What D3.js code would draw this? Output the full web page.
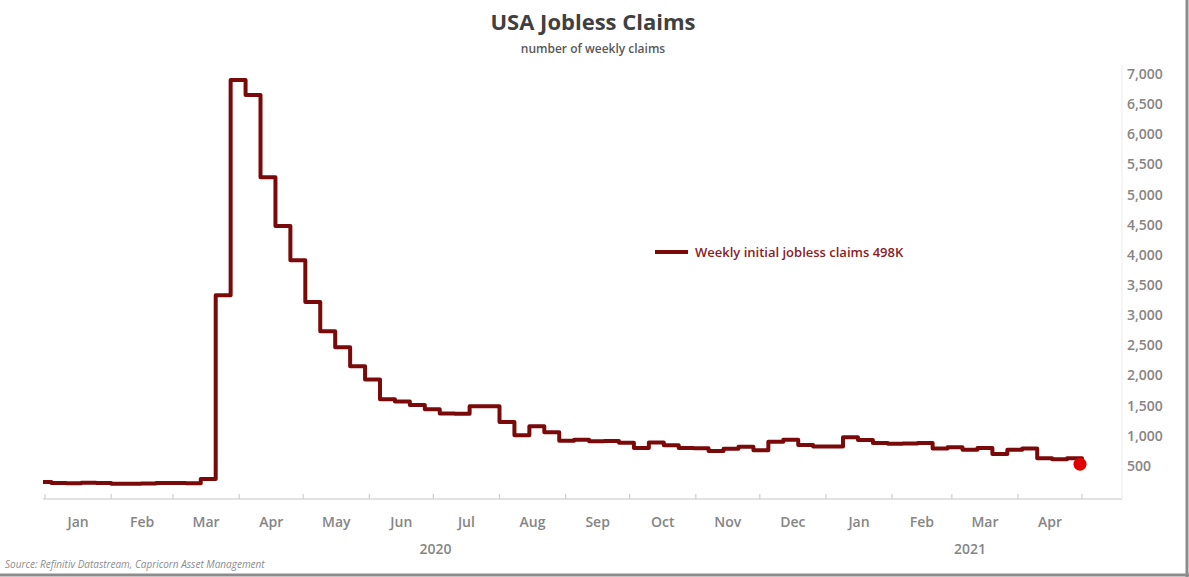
<!DOCTYPE html>
<html>
<head>
<meta charset="utf-8">
<script src="https://cdn.jsdelivr.net/npm/d3@7"></script>
<style>
  html, body { margin: 0; padding: 0; background: #fff; }
  svg { display: block; }
</style>
</head>
<body>
<svg id="chart" width="1189" height="577"></svg>
<script>
// ---- Data (thousands of claims, week ending dates) ----
const weekEnding = [
  "2019-12-28","2020-01-04","2020-01-11","2020-01-18","2020-01-25","2020-02-01","2020-02-08","2020-02-15",
  "2020-02-22","2020-02-29","2020-03-07","2020-03-14","2020-03-21","2020-03-28","2020-04-04","2020-04-11",
  "2020-04-18","2020-04-25","2020-05-02","2020-05-09","2020-05-16","2020-05-23","2020-05-30","2020-06-06",
  "2020-06-13","2020-06-20","2020-06-27","2020-07-04","2020-07-11","2020-07-18","2020-07-25","2020-08-01",
  "2020-08-08","2020-08-15","2020-08-22","2020-08-29","2020-09-05","2020-09-12","2020-09-19","2020-09-26",
  "2020-10-03","2020-10-10","2020-10-17","2020-10-24","2020-10-31","2020-11-07","2020-11-14","2020-11-21",
  "2020-11-28","2020-12-05","2020-12-12","2020-12-19","2020-12-26","2021-01-02","2021-01-09","2021-01-16",
  "2021-01-23","2021-01-30","2021-02-06","2021-02-13","2021-02-20","2021-02-27","2021-03-06","2021-03-13",
  "2021-03-20","2021-03-27","2021-04-03","2021-04-10","2021-04-17","2021-04-24","2021-05-01"
];
const claims = [
  235, 220, 215, 222, 216, 205, 205, 210,
  220, 219, 215, 285, 3330, 6900, 6650, 5290,
  4480, 3910, 3220, 2735, 2470, 2155, 1935, 1605,
  1570, 1510, 1440, 1370, 1365, 1490, 1490, 1230,
  1010, 1160, 1060, 920, 935, 910, 915, 885,
  800, 890, 845, 800, 795, 750, 785, 820,
  760, 900, 935, 850, 825, 825, 975, 930,
  880, 870, 875, 880, 790, 810, 770, 800,
  700, 770, 790, 630, 610, 630, 530
];
const yTicks = [500, 1000, 1500, 2000, 2500, 3000, 3500, 4000, 4500, 5000, 5500, 6000, 6500, 7000];
const monthLabels = ["Jan","Feb","Mar","Apr","May","Jun","Jul","Aug","Sep","Oct","Nov","Dec","Jan","Feb","Mar","Apr"];
const yearLabels = ["2020", "2021"];
const titleText = "USA Jobless Claims";
const subtitleText = "number of weekly claims";
const legendText = "Weekly initial jobless claims 498K";
const sourceText = "Source: Refinitiv Datastream, Capricorn Asset Management";

// ---- Layout ----
const svg = d3.select("#chart");
const W = 1189, H = 577;
const parse = d3.utcParse("%Y-%m-%d");
const data = weekEnding.map((d, i) => ({ date: parse(d), value: claims[i] }));

const plotLeft = 43, plotRight = 1122, plotTop = 60, axisY = 499;
const FONT = "Open Sans, sans-serif";

const x = d3.scaleUtc()
  .domain([Date.UTC(2020, 0, 1), Date.UTC(2021, 4, 1)])
  .range([45, 1082]);
const y = d3.scaleLinear().domain([0, 7000]).range([496.15, 74]);

// background and frame
svg.append("rect").attr("x", 0).attr("y", 0).attr("width", W).attr("height", H).attr("fill", "#fff");
svg.append("line").attr("x1", 0).attr("x2", W).attr("y1", 575).attr("y2", 575)
  .attr("stroke", "#8c8c8c").attr("stroke-width", 3);
svg.append("line").attr("x1", 1187).attr("x2", 1187).attr("y1", 0).attr("y2", H)
  .attr("stroke", "#8c8c8c").attr("stroke-width", 3);

// title
svg.append("text").attr("x", 593).attr("y", 30).attr("text-anchor", "middle")
  .attr("font-family", FONT).attr("font-weight", "bold").attr("font-size", 22)
  .attr("fill", "#404040").text(titleText);
svg.append("text").attr("x", 593).attr("y", 53).attr("text-anchor", "middle")
  .attr("font-family", FONT).attr("font-size", 12).attr("font-weight", 600)
  .attr("fill", "#595959").text(subtitleText);

// right value axis line (faint)
svg.append("line").attr("x1", plotRight).attr("x2", plotRight).attr("y1", 65).attr("y2", axisY)
  .attr("stroke", "#ececec").attr("stroke-width", 1);

// y labels
svg.append("g").selectAll("text").data(yTicks).join("text")
  .attr("x", 1127).attr("y", d => y(d)).attr("dy", "0.35em")
  .attr("font-family", FONT).attr("font-size", 14).attr("font-weight", 600)
  .attr("fill", "#858585").text(d => d3.format(",")(d));

// x axis line
svg.append("line").attr("x1", plotLeft).attr("x2", plotRight).attr("y1", axisY).attr("y2", axisY)
  .attr("stroke", "#d9d9d9").attr("stroke-width", 1.5);

const monthStarts = d3.utcMonth.range(Date.UTC(2020, 0, 1), Date.UTC(2021, 4, 2));
svg.append("g").selectAll("line").data(monthStarts).join("line")
  .attr("x1", d => x(d)).attr("x2", d => x(d)).attr("y1", axisY - 5).attr("y2", axisY)
  .attr("stroke", "#cfcfcf").attr("stroke-width", 1.2);

// month labels centered in each month
svg.append("g").selectAll("text").data(monthLabels).join("text")
  .attr("x", (d, i) => (x(monthStarts[i]) + x(monthStarts[i + 1])) / 2)
  .attr("y", 527).attr("text-anchor", "middle")
  .attr("font-family", FONT).attr("font-size", 14).attr("font-weight", 600)
  .attr("fill", "#858585").text(d => d);

// year labels
const yearPos = [
  (x(Date.UTC(2020, 0, 1)) + x(Date.UTC(2021, 0, 1))) / 2,
  (x(Date.UTC(2021, 0, 1)) + plotRight) / 2 - 4
];
svg.append("g").selectAll("text").data(yearLabels).join("text")
  .attr("x", (d, i) => yearPos[i]).attr("y", 554).attr("text-anchor", "middle")
  .attr("font-family", FONT).attr("font-size", 14).attr("font-weight", 600)
  .attr("fill", "#858585").text(d => d);

// clip
svg.append("clipPath").attr("id", "plotclip").append("rect")
  .attr("x", plotLeft).attr("y", plotTop).attr("width", plotRight - plotLeft).attr("height", axisY - plotTop);

// series line
const line = d3.line().x(d => x(d.date)).y(d => y(d.value)).curve(d3.curveStepAfter);
svg.append("path").datum(data).attr("clip-path", "url(#plotclip)")
  .attr("d", line).attr("fill", "none").attr("stroke", "#7a0a0a")
  .attr("stroke-width", 4).attr("stroke-linejoin", "round");

// last point marker
const last = data[data.length - 1];
svg.append("circle").attr("cx", x(last.date) - 2).attr("cy", y(last.value))
  .attr("r", 6.5).attr("fill", "#e00000");

// legend
svg.append("line").attr("x1", 655).attr("x2", 688).attr("y1", 252).attr("y2", 252)
  .attr("stroke", "#7a0a0a").attr("stroke-width", 4);
svg.append("text").attr("x", 695).attr("y", 252).attr("dy", "0.35em")
  .attr("font-family", FONT).attr("font-size", 13).attr("font-weight", 600)
  .attr("fill", "#8b1c24").text(legendText);

// source
svg.append("text").attr("x", 5).attr("y", 568)
  .attr("font-family", FONT).attr("font-size", 10).attr("font-style", "italic")
  .attr("fill", "#8c8c8c").text(sourceText);
</script>
</body>
</html>
